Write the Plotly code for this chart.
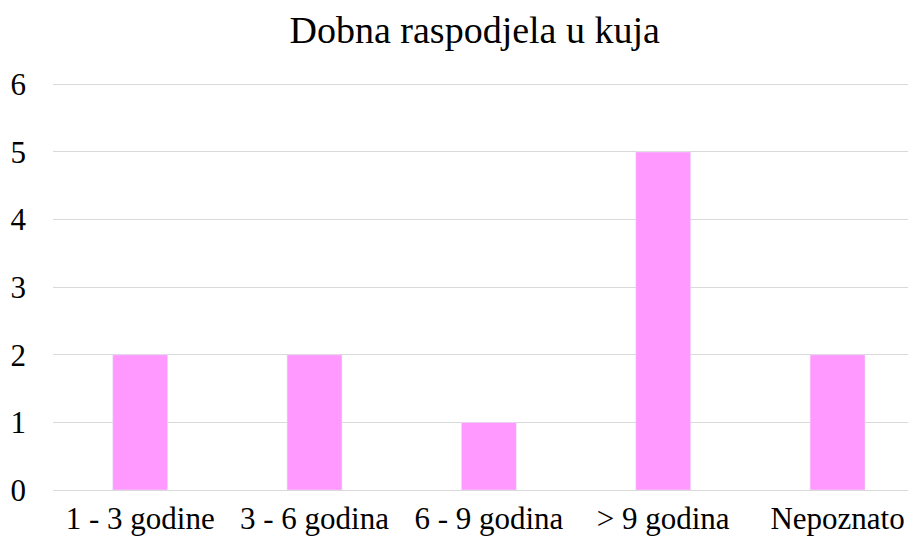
import plotly.graph_objects as go

categories = ["1 - 3 godine", "3 - 6 godina", "6 - 9 godina", "> 9 godina", "Nepoznato"]
values = [2, 2, 1, 5, 2]
y_ticks = [0, 1, 2, 3, 4, 5, 6]

fig = go.Figure(go.Bar(x=categories, y=values, marker_color="#FF99FF", width=0.315))

font = "Liberation Serif"
fig.update_layout(
    width=908, height=534,
    margin=dict(l=45, r=0, t=75, b=52),
    paper_bgcolor="white", plot_bgcolor="white",
    title=dict(text="Dobna raspodjela u kuja", x=0.514, xanchor="center", y=0.959, yanchor="middle",
               font=dict(family=font, size=38, color="black")),
    font=dict(family=font, size=31, color="black"),
    showlegend=False,
)
fig.update_xaxes(type="category", range=[-0.5, 4.45], showgrid=False, showline=False,
                 ticks="", tickfont=dict(family=font, size=31, color="black"), ticklabelstandoff=7)
fig.update_yaxes(range=[0, 6.02], tickvals=y_ticks, showgrid=True, gridcolor="#d9d9d9", gridwidth=1,
                 zeroline=True, zerolinecolor="#d9d9d9", zerolinewidth=1, showline=False,
                 ticks="", tickfont=dict(family=font, size=31, color="black"), ticklabelstandoff=26)

fig.write_html("out.html")
